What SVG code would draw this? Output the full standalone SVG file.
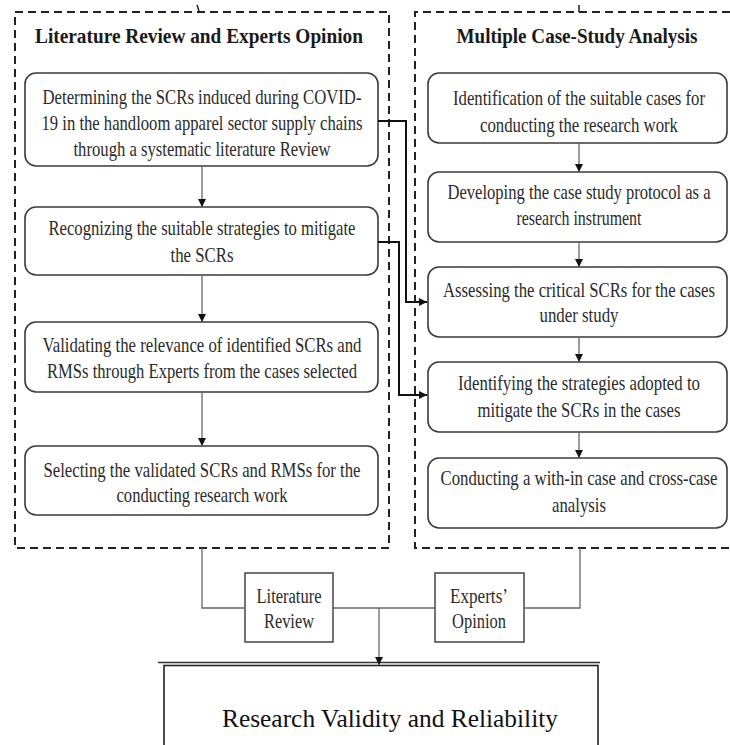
<svg xmlns="http://www.w3.org/2000/svg" width="730" height="745" viewBox="0 0 730 745">
  <defs>
    <marker id="arr" viewBox="0 0 10 10" refX="10" refY="5" markerWidth="8" markerHeight="8" markerUnits="userSpaceOnUse" orient="auto">
      <path d="M0,0 L10,5 L0,10 z" fill="#111"/>
    </marker>
  </defs>
  <style>
    .zone{fill:none;stroke:#222;stroke-width:2;stroke-dasharray:8 5}
    .step{fill:#fff;stroke:#3a3a3a;stroke-width:1.6}
    .plain{fill:#fff;stroke:#444;stroke-width:1.5}
    .t{font-family:"Liberation Serif","Times New Roman",serif;font-size:21.5px;fill:#2b2b2b;text-anchor:middle}
    .s{font-family:"Liberation Serif","Times New Roman",serif;font-size:20px;fill:#2b2b2b;text-anchor:middle}
    .big{font-family:"Liberation Serif","Times New Roman",serif;font-size:25px;fill:#111;text-anchor:middle}
    .h{font-family:"Liberation Serif","Times New Roman",serif;font-size:22px;font-weight:bold;fill:#1a1a1a;text-anchor:middle}
    .flow{fill:none;stroke:#666;stroke-width:1.3}
    .link{fill:none;stroke:#111;stroke-width:2}
  </style>
  <rect width="730" height="745" fill="#fff"/>

  <!-- dashed zones -->
  <g id="zone-literature">
    <rect class="zone" x="15" y="12" width="374" height="536"/>
    <path d="M197,5 L199,11" stroke="#222" stroke-width="1.5" fill="none"/>
    <text class="h" x="199" y="43" textLength="328" lengthAdjust="spacingAndGlyphs">Literature Review and Experts Opinion</text>
  </g>
  <g id="zone-casestudy">
    <path class="zone" d="M730,12 H415 V548 H730"/>
    <path d="M579,5 V12" stroke="#222" stroke-width="1.5" fill="none"/>
    <text class="h" x="577" y="43" textLength="241" lengthAdjust="spacingAndGlyphs">Multiple Case-Study Analysis</text>
  </g>

  <!-- left column steps -->
  <g id="step-determine">
    <rect class="step" x="25" y="73" width="353" height="93" rx="11"/>
    <text class="t" x="202" y="104" textLength="319" lengthAdjust="spacingAndGlyphs">Determining the SCRs induced during COVID-</text>
    <text class="t" x="202" y="130" textLength="321" lengthAdjust="spacingAndGlyphs">19 in the handloom apparel sector supply chains</text>
    <text class="t" x="202" y="156" textLength="257" lengthAdjust="spacingAndGlyphs">through a systematic literature Review</text>
  </g>
  <g id="step-recognize">
    <rect class="step" x="25" y="207" width="353" height="68" rx="11"/>
    <text class="t" x="202" y="235" textLength="307" lengthAdjust="spacingAndGlyphs">Recognizing the suitable strategies to mitigate</text>
    <text class="t" x="202" y="262" textLength="63" lengthAdjust="spacingAndGlyphs">the SCRs</text>
  </g>
  <g id="step-validate">
    <rect class="step" x="25" y="322" width="353" height="70" rx="11"/>
    <text class="t" x="202" y="352" textLength="319" lengthAdjust="spacingAndGlyphs">Validating the relevance of identified SCRs and</text>
    <text class="t" x="202" y="378" textLength="310" lengthAdjust="spacingAndGlyphs">RMSs through Experts from the cases selected</text>
  </g>
  <g id="step-select">
    <rect class="step" x="25" y="446" width="353" height="69" rx="11"/>
    <text class="t" x="202" y="477" textLength="317" lengthAdjust="spacingAndGlyphs">Selecting the validated SCRs and RMSs for the</text>
    <text class="t" x="202" y="502" textLength="171" lengthAdjust="spacingAndGlyphs">conducting research work</text>
  </g>

  <!-- right column steps -->
  <g id="step-identify-cases">
    <rect class="step" x="428" y="73" width="299" height="70" rx="11"/>
    <text class="t" x="579" y="105" textLength="252" lengthAdjust="spacingAndGlyphs">Identification of the suitable cases for</text>
    <text class="t" x="579" y="132" textLength="198" lengthAdjust="spacingAndGlyphs">conducting the research work</text>
  </g>
  <g id="step-protocol">
    <rect class="step" x="428" y="172" width="299" height="70" rx="11"/>
    <text class="t" x="579" y="199" textLength="263" lengthAdjust="spacingAndGlyphs">Developing the case study protocol as a</text>
    <text class="t" x="579" y="225" textLength="125" lengthAdjust="spacingAndGlyphs">research instrument</text>
  </g>
  <g id="step-assess">
    <rect class="step" x="428" y="267" width="299" height="70" rx="11"/>
    <text class="t" x="579" y="297" textLength="272" lengthAdjust="spacingAndGlyphs">Assessing the critical SCRs for the cases</text>
    <text class="t" x="579" y="322" textLength="79" lengthAdjust="spacingAndGlyphs">under study</text>
  </g>
  <g id="step-strategies">
    <rect class="step" x="428" y="362" width="299" height="70" rx="11"/>
    <text class="t" x="579" y="390" textLength="242" lengthAdjust="spacingAndGlyphs">Identifying the strategies adopted to</text>
    <text class="t" x="579" y="417" textLength="203" lengthAdjust="spacingAndGlyphs">mitigate the SCRs in the cases</text>
  </g>
  <g id="step-analysis">
    <rect class="step" x="428" y="458" width="299" height="70" rx="11"/>
    <text class="t" x="579" y="485" textLength="277" lengthAdjust="spacingAndGlyphs">Conducting a with-in case and cross-case</text>
    <text class="t" x="579" y="512" textLength="54" lengthAdjust="spacingAndGlyphs">analysis</text>
  </g>

  <!-- bottom boxes -->
  <g id="box-literature">
    <rect class="plain" x="245" y="573" width="88" height="69"/>
    <text class="s" x="289" y="603" textLength="65" lengthAdjust="spacingAndGlyphs">Literature</text>
    <text class="s" x="289" y="628" textLength="50" lengthAdjust="spacingAndGlyphs">Review</text>
  </g>
  <g id="box-experts">
    <rect class="plain" x="435" y="573" width="89" height="69"/>
    <text class="s" x="479" y="603" textLength="58" lengthAdjust="spacingAndGlyphs">Experts’</text>
    <text class="s" x="479" y="628" textLength="54" lengthAdjust="spacingAndGlyphs">Opinion</text>
  </g>
  <g id="box-validity">
    <path d="M158,662.5 H600" stroke="#333" stroke-width="1.5" fill="none"/>
    <rect x="164" y="665.5" width="434" height="100" fill="#fff" stroke="#222" stroke-width="1.6"/>
    <text class="big" x="390" y="727" textLength="336" lengthAdjust="spacingAndGlyphs">Research Validity and Reliability</text>
  </g>

  <!-- connectors -->
  <g id="connectors">
    <path class="flow" d="M202,166 V207" marker-end="url(#arr)"/>
    <path class="flow" d="M202,275 V322" marker-end="url(#arr)"/>
    <path class="flow" d="M202,392 V446" marker-end="url(#arr)"/>
    <path class="flow" d="M579,143 V172" marker-end="url(#arr)"/>
    <path class="flow" d="M579,242 V267" marker-end="url(#arr)"/>
    <path class="flow" d="M579,337 V362" marker-end="url(#arr)"/>
    <path class="flow" d="M579,432 V458" marker-end="url(#arr)"/>
    <path class="link" d="M378,121 H406 V302 H427" marker-end="url(#arr)"/>
    <path class="link" d="M378,242 H399 V395 H427" marker-end="url(#arr)"/>
    <path class="flow" d="M202,548 V608 H245"/>
    <path class="flow" d="M333,608 H435"/>
    <path class="flow" d="M524,608 H580 V548"/>
    <path class="flow" d="M379,608 V665" marker-end="url(#arr)"/>
  </g>
</svg>
